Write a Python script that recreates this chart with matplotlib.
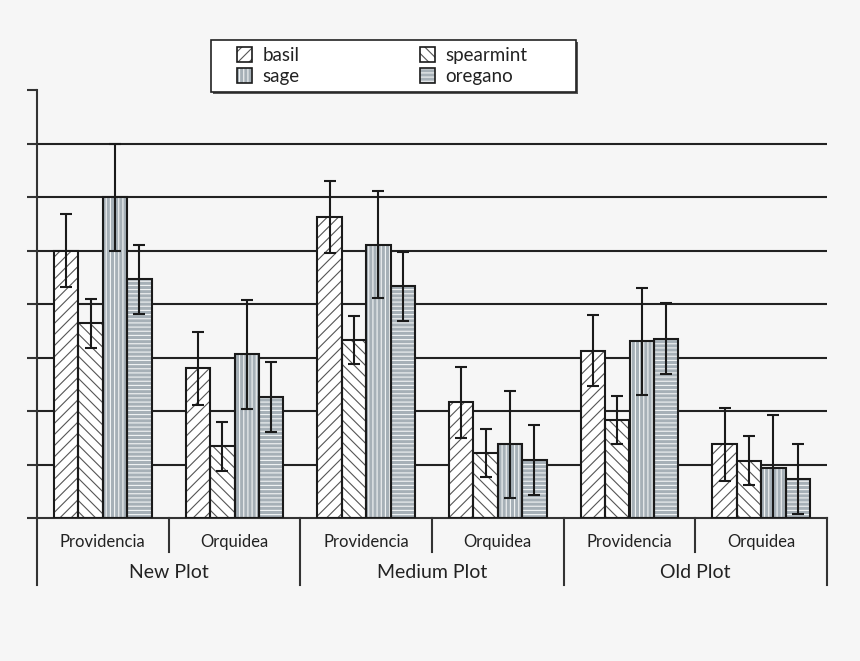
import matplotlib
matplotlib.use("Agg")
import matplotlib.pyplot as plt
import numpy as np
from matplotlib.patches import Patch, Rectangle
from matplotlib.legend_handler import HandlerTuple

plt.rcParams['font.family'] = ['Lato', 'DejaVu Sans']
plt.rcParams['hatch.linewidth'] = 0.8

sub_labels = ["Providencia", "Orquidea", "Providencia", "Orquidea", "Providencia", "Orquidea"]
group_labels = ["New Plot", "Medium Plot", "Old Plot"]
series = ["basil", "spearmint", "sage", "oregano"]

basil = [5.0, 2.8, 5.63, 2.16, 3.13, 1.38]
basil_err = [0.68, 0.68, 0.67, 0.67, 0.67, 0.68]
spearmint = [3.64, 1.34, 3.32, 1.21, 1.83, 1.07]
spearmint_err = [0.46, 0.46, 0.45, 0.45, 0.45, 0.46]
sage = [6.0, 3.06, 5.11, 1.38, 3.3, 0.93]
sage_err = [1.0, 1.02, 1.0, 1.0, 1.0, 1.0]
oregano = [4.46, 2.26, 4.33, 1.08, 3.35, 0.73]
oregano_err = [0.65, 0.65, 0.65, 0.65, 0.66, 0.65]

values = [basil, spearmint, sage, oregano]
errors = [basil_err, spearmint_err, sage_err, oregano_err]

BG = "#f6f6f6"
styles = [
    dict(face="white", hcol="#555555", hatch="///"),
    dict(face="white", hcol="#555555", hatch="\\\\\\"),
    dict(face="#a6b0b7", hcol="#f2f4f5", hatch="||||"),
    dict(face="#a6b0b7", hcol="#f2f4f5", hatch="----"),
]

fig = plt.figure(figsize=(8.6, 6.61), dpi=100, facecolor=BG)
ax = fig.add_axes([37/860, 1-518/661, 790/860, 428/661])
ax.set_facecolor(BG)

x = np.arange(len(sub_labels)) + 0.5
bw = 0.185
for i, (vals, errs, st) in enumerate(zip(values, errors, styles)):
    pos = x + (i - 1.5) * bw
    ax.bar(pos, vals, bw, color=st["face"], edgecolor=st["hcol"], hatch=st["hatch"],
           linewidth=0, zorder=2)
    ax.bar(pos, vals, bw, fill=False, edgecolor="#1a1a1a", linewidth=1.5, zorder=3)
    ax.errorbar(pos, vals, yerr=errs, fmt="none", ecolor="#1a1a1a", elinewidth=1.5,
                capsize=4, capthick=1.5, zorder=4)

for yv in range(1, 8):
    ax.axhline(yv, color="#222222", linewidth=1.5, zorder=1)

ax.set_xlim(0, 6)
ax.set_ylim(0, 8)
ax.set_yticks(range(0, 9))
ax.set_yticklabels([])
ax.set_xticks([])
ax.tick_params(axis="y", length=7, width=1.5, color="#333333")
for s in ["top", "right"]:
    ax.spines[s].set_visible(False)
for s in ["left", "bottom"]:
    ax.spines[s].set_color("#333333")
    ax.spines[s].set_linewidth(1.5)

tr = ax.get_xaxis_transform()
h_sub = -34/428
h_grp = -67/428
ax.plot([0, 0], [0, h_grp], transform=tr, color="#333333", lw=1.5, clip_on=False)
for k in range(1, 7):
    y1 = h_grp if k % 2 == 0 else h_sub
    ax.plot([k, k], [0, y1], transform=tr, color="#333333", lw=1.5, clip_on=False)
for k, lab in enumerate(sub_labels):
    ax.text(k + 0.5, -24/428, lab, transform=tr, ha="center", va="center",
            fontsize=12, color="#222222")
for k, lab in enumerate(group_labels):
    ax.text(2*k + 1, -55/428, lab, transform=tr, ha="center", va="center",
            fontsize=14, color="#222222")

# legend
fig.patches.append(Rectangle((213/860, 1-94/661), 365/860, 52/661, transform=fig.transFigure,
                             facecolor="#555555", edgecolor="none", zorder=0))
fig.patches.append(Rectangle((211/860, 1-92/661), 365/860, 52/661, transform=fig.transFigure,
                             facecolor="white", edgecolor="#222222", linewidth=1.2, zorder=1))
handles = []
for st in styles:
    handles.append((Patch(facecolor=st["face"], edgecolor=st["hcol"], hatch=st["hatch"], linewidth=0),
                    Patch(fill=False, edgecolor="#1a1a1a", linewidth=1.2)))
order = [0, 2, 1, 3]
leg = fig.legend([handles[i] for i in order], [series[i] for i in order],
                 handler_map={tuple: HandlerTuple(ndivide=1, pad=0)},
                 loc="upper left", bbox_to_anchor=(237/860, 1-47/661), ncol=2,
                 frameon=False, fontsize=13.5, handlelength=0.8, handleheight=0.8,
                 handletextpad=0.55, columnspacing=6.45, labelspacing=0.22,
                 borderpad=0, borderaxespad=0)
for t in leg.get_texts():
    t.set_color("#222222")

fig.savefig("out.png", dpi=100, facecolor=BG)
